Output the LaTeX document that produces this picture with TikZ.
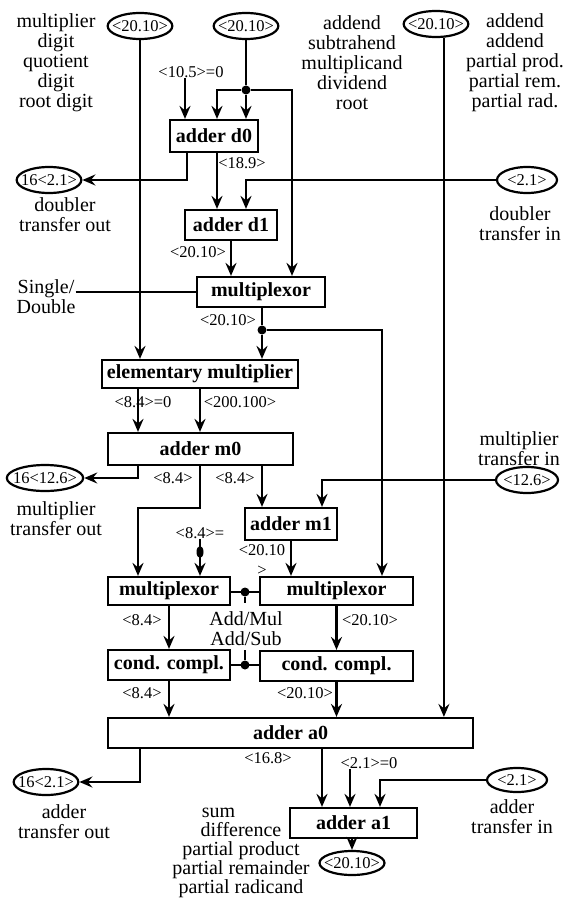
\documentclass[tikz,border=0pt]{standalone}
\usepackage{fontspec}
\setmainfont{Liberation Serif}
\usetikzlibrary{arrows.meta,shapes.geometric}
\newcommand\bigf{\fontsize{20}{20}\selectfont}
\newcommand\smf{\fontsize{16.5}{20}\selectfont}
\begin{document}
\begin{tikzpicture}[x=1pt,y=-1pt,
 wire/.style={line width=2.2pt},
 arr/.style={wire,-{Stealth[length=13pt,width=11pt,inset=4.5pt]}},
 blk/.style={draw,line width=2.2pt,inner sep=0pt,font=\bigf\bfseries},
 port/.style={draw,ellipse,line width=2.2pt,inner xsep=-5pt,inner ysep=0pt,minimum width=62pt,minimum height=26pt,font=\smf},
 lbl/.style={inner sep=0pt,font=\smf,align=center},
 txt/.style={inner sep=0pt,font=\bigf,align=center},
 jdot/.style={circle,fill,inner sep=0pt,minimum size=9pt},
]
\useasboundingbox (0,0) rectangle (566,901);
% column coordinates
\coordinate (x138) at (138,0);
\coordinate (x140) at (140,0);
\coordinate (x185) at (185,0);
\coordinate (x187) at (187,0);
\coordinate (x200) at (200,0);
\coordinate (x217) at (217,0);
\coordinate (x246) at (246,0);
\coordinate (x262) at (262,0);
\coordinate (x292) at (292,0);
\coordinate (x322) at (322,0);
\coordinate (x350) at (350,0);
\coordinate (x380) at (380,0);
\coordinate (x382) at (382,0);

% texts
\node[txt] (tL) at (56,63) {multiplier\\digit\\quotient\\digit\\root digit};
\node[txt] (tM) at (352,63) {addend\\subtrahend\\multiplicand\\dividend\\root};
\node[txt] (tR) at (515,63) {addend\\addend\\partial prod.\\partial rem.\\partial rad.};
\node[txt] (tDO) at (65,215) {doubler\\transfer out};
\node[txt] (tDI) at (520,224) {doubler\\transfer in};
\node[txt] (sd) at (46,297) {Single/\\Double};
\node[txt] (tMO) at (56,519) {multiplier\\transfer out};
\node[txt] (tMI) at (519,449) {multiplier\\transfer in};
\node[txt] (tAM) at (246,629) {Add/Mul\\Add/Sub};
\node[txt] (tAO) at (64,822) {adder\\transfer out};
\node[txt] (tAI) at (512,817) {adder\\transfer in};
\node[txt,font=\fontsize{20}{19}\selectfont] (tS) at (241,853) {sum\hspace*{45pt}\\difference\\partial product\\partial remainder\\partial radicand};

% ports
\node[port] (inA) at (140,26) {<20.10>};
\node[port] (inB) at (246,26) {<20.10>};
\node[port] (inC) at (436,24) {<20.10>};
\node[port] (oT1) at (49,180) {16<2.1>};
\node[port,minimum width=60pt] (iT1) at (527,180) {<2.1>};
\node[port] (oM) at (45,478) {16<12.6>};
\node[port] (iM) at (527,480) {<12.6>};
\node[port] (oA) at (46,782) {16<2.1>};
\node[port,minimum width=60pt,minimum height=24pt] (iA) at (517,780) {<2.1>};
\node[port,minimum width=65pt,minimum height=24pt] (oF) at (352,863) {<20.10>};

% blocks
\node[blk,minimum width=88pt,minimum height=32pt] (d0) at (214,136) {adder d0};
\node[blk,minimum width=92pt,minimum height=30pt] (d1) at (231,225) {adder d1};
\node[blk,minimum width=128pt,minimum height=30pt] (mux1) at (261,292) {multiplexor};
\node[blk,minimum width=196pt,minimum height=28pt] (em) at (200,374) {elementary multiplier};
\node[blk,minimum width=185pt,minimum height=32pt] (m0) at (200.5,449) {adder m0};
\node[blk,minimum width=92pt,minimum height=32pt] (m1) at (291,524) {adder m1};
\node[blk,minimum width=122pt,minimum height=28pt] (muxL) at (169,591) {multiplexor};
\node[blk,minimum width=153pt,minimum height=28pt] (muxR) at (336.5,591) {multiplexor};
\node[blk,minimum width=122pt,minimum height=30pt] (ccL) at (169,665) {cond. compl.};
\node[blk,minimum width=153pt,minimum height=30pt] (ccR) at (336.5,666) {cond. compl.};
\node[blk,minimum width=365pt,minimum height=30pt] (a0) at (290.5,733) {adder a0};
\node[blk,minimum width=127pt,minimum height=30pt] (a1) at (353.5,823) {adder a1};

% labels
\node[lbl] (l105) at (191,72) {<10.5>=0};
\node[lbl] (l189) at (242,163) {<18.9>};
\node[lbl] (l2010a) at (198,252) {<20.10>};
\node[lbl] (l2010b) at (228,320) {<20.10>};
\node[lbl] (l84z) at (143,402) {<8.4>=0};
\node[lbl] (l200) at (240,402) {<200.100>};
\node[lbl] (l84a) at (173,478) {<8.4>};
\node[lbl] (l84b) at (235,478) {<8.4>};
\node[lbl] (l84e) at (200,533) {<8.4>=};
\node[lbl] (l2010c) at (262,560) {<20.10\\>};
\node[lbl] (l84c) at (142,620) {<8.4>};
\node[lbl] (l2010d) at (370,620) {<20.10>};
\node[lbl] (l84d) at (142,693) {<8.4>};
\node[lbl] (l2010e) at (305,693) {<20.10>};
\node[lbl] (l168) at (268,758) {<16.8>};
\node[lbl] (l21) at (369,763) {<2.1>=0};

% junctions
\node[jdot] (j1) at (246,90) {};
\node[jdot] (j2) at (262,330) {};
\node[jdot] (j3) at (245,592) {};
\node[jdot] (j4) at (245,665) {};
\node[jdot,ellipse,minimum width=7pt,minimum height=12pt] (je) at (200,552) {};
\coordinate (j3b) at (245,603);
\coordinate (j4t) at (245,650);
\coordinate (b1) at (138,508);

% connectors
\draw[arr] (inA.south) -- (inA.south |- em.north);
\draw[wire] (inB.south) -- (j1);
\draw[arr] (j1) -- (j1 |- d0.north);
\draw[arr] (j1) -| (d0.north -| x217);
\draw[arr] (j1) -| (mux1.north -| x292);
\draw[arr] (l105.south -| x185) -- (d0.north -| x185);
\draw[arr] (d0.south -| x187) |- (oT1.east);
\draw[arr] (d0.south -| x217) -- (d1.north -| x217);
\draw[arr] (iT1.west) -| (d1.north -| x246);
\draw[arr] (d1.south) -- (d1.south |- mux1.north);
\draw[wire] (sd.east |- mux1.west) -- (mux1.west);
\draw[wire] (mux1.south -| j2) -- (j2);
\draw[arr] (j2) -- (j2 |- em.north);
\draw[arr] (j2) -| (muxR.north -| x382);
\draw[arr] (em.south -| x138) -- (m0.north -| x138);
\draw[arr] (em.south -| x200) -- (m0.north -| x200);
\draw[arr] (m0.south -| x138) |- (oM.east);
\draw[arr] (m0.south -| x200) |- (b1) -- (b1 |- muxL.north);
\draw[arr] (m0.south -| x262) -- (m1.north -| x262);
\draw[arr] (iM.west) -| (m1.north -| x322);
\draw[arr] (l84e.south) -- (l84e.south |- muxL.north);
\draw[arr] (m1.south) -- (m1.south |- muxR.north);
\draw[wire] (muxL.east |- j3) -- (muxR.west |- j3);
\draw[wire] (j3) -- (j3b);
\draw[wire] (ccL.east |- j4) -- (ccR.west |- j4);
\draw[wire] (j4t) -- (j4);
\draw[arr] (muxL.south) -- (ccL.north);
\draw[arr] (muxR.south) -- (ccR.north);
\draw[arr] (ccL.south) -- (ccL.south |- a0.north);
\draw[arr] (ccR.south) -- (ccR.south |- a0.north);
\draw[arr] (inC.-60) -- (inC.-60 |- a0.north);
\draw[arr] (a0.south -| x140) |- (oA.east);
\draw[arr] (a0.south -| x322) -- (a1.north -| x322);
\draw[arr] (l21.south -| x350) -- (a1.north -| x350);
\draw[arr] (iA.west) -| (a1.north -| x380);
\draw[arr] (oF.north |- a1.south) -- (oF.north);
\end{tikzpicture}
\end{document}
